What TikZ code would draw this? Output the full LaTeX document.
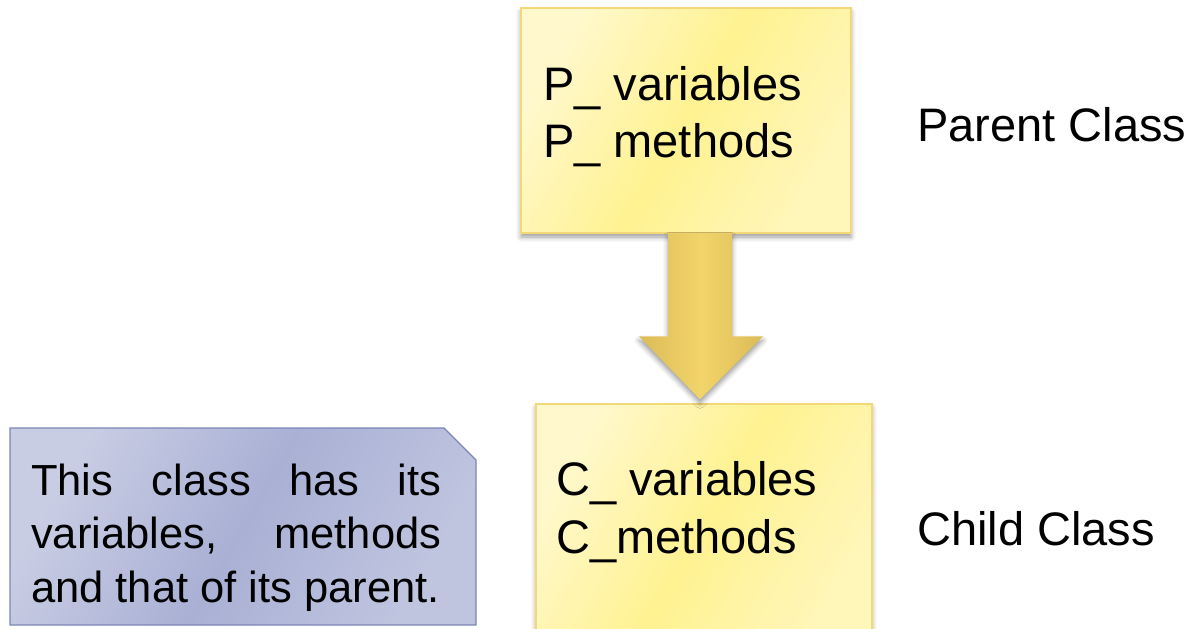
\documentclass[tikz,border=0pt]{standalone}
\usepackage{fontspec}
\setmainfont{Liberation Sans}
\usetikzlibrary{calc,shadows.blur}

\definecolor{ylight}{HTML}{FFF8CC}
\definecolor{ymid}{HTML}{FFF291}
\definecolor{yedge}{HTML}{F3D878}
\definecolor{arrowside}{HTML}{DCBB58}
\definecolor{arrowmid}{HTML}{F1D46A}
\definecolor{notelight}{HTML}{C9CDE4}
\definecolor{notemid}{HTML}{A9B0D4}
\definecolor{noteedge}{HTML}{7B86B6}

\begin{document}
\begin{tikzpicture}[x=1pt,y=-1pt,
  softshadow/.style={blur shadow={shadow xshift=0pt, shadow yshift=-4pt,
      shadow blur radius=5pt, shadow opacity=40}},
  classbox/.style={rectangle, draw=yedge, line width=1.2pt, inner sep=0pt,
      left color=ylight, right color=ylight!70!ymid, middle color=ymid,
      shading angle=60, softshadow},
  boxtext/.style={inner sep=0pt, anchor=base west,
      font=\fontsize{47}{56}\selectfont},
  notetext/.style={inner sep=0pt, anchor=base west,
      font=\fontsize{43.5}{53}\selectfont},
  blockarrow/.style={left color=arrowside, right color=arrowside,
      middle color=arrowmid, draw=none, softshadow},
  notebox/.style={draw=noteedge, line width=1.2pt,
      left color=notelight, right color=notelight!70!notemid, middle color=notemid,
      shading angle=60}
]
\useasboundingbox (0,0) rectangle (1192,629);

% the two class boxes
\node[classbox, minimum width=330pt, minimum height=225pt] (parent) at (686,120.5) {};
\node[classbox, minimum width=336pt, minimum height=246pt] (child) at (704,527) {};

% block arrow from parent to child
\coordinate (atop) at ($(parent.south)+(14,0)$);
\coordinate (atip) at ($(child.north)+(-4,-4)$);
\path[blockarrow]
  ($(atop)+(-32,0)$) -- ($(atop)+(32,0)$) --
  ($(atip)+(32,-63)$) -- ($(atip)+(63,-63)$) -- (atip) --
  ($(atip)+(-61,-63)$) -- ($(atip)+(-32,-63)$) -- cycle;

% box contents
\node[boxtext] (pvar) at (543,100) {P\_ variables};
\node[boxtext] (pmeth) at (543,157) {P\_ methods};
\node[boxtext] (cvar) at (556,495) {C\_ variables};
\node[boxtext] (cmeth) at (556,553) {C\_methods};

% side labels
\node[boxtext] (plabel) at (917,141) {Parent Class};
\node[boxtext] (clabel) at (917,545) {Child Class};

% note with a clipped corner
\path[notebox] (10,428) -- (444,428) -- (476,460) -- (476,625) -- (10,625) -- cycle;
\node[notetext] (note1) at (31,495) {\makebox[410pt][s]{This class has its}};
\node[notetext] (note2) at (31,548) {\makebox[410pt][s]{variables, methods}};
\node[notetext] (note3) at (31,602) {and that of its parent.};
\end{tikzpicture}
\end{document}
